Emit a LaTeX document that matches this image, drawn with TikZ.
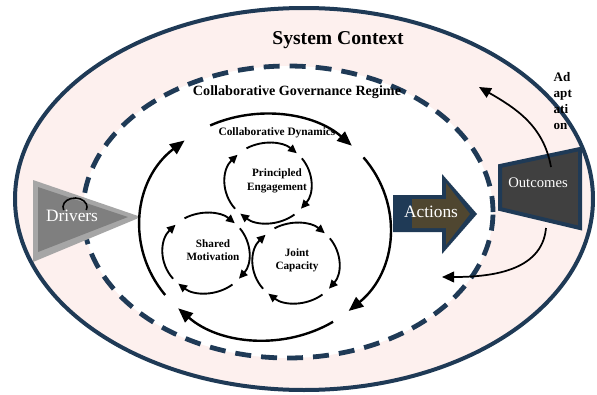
\documentclass[tikz,border=0pt]{standalone}
\usepackage{fontspec}
\setmainfont{Liberation Serif}
\usepackage{tikz}
\usetikzlibrary{arrows.meta}
\usetikzlibrary{positioning}
\definecolor{ctxnavy}{HTML}{1F3A56}
\definecolor{ctxpink}{HTML}{FDF0EE}
\definecolor{drvlight}{HTML}{A6A6A6}
\definecolor{drvdark}{HTML}{7F7F7F}
\definecolor{actolive}{HTML}{4F4630}
\definecolor{outgray}{HTML}{404040}

\tikzset{
  bigloop/.style={line width=1.8pt, -{Triangle[length=11pt,width=9pt]}},
  smallloop/.style={line width=1.4pt, -{Triangle[length=6.5pt,width=6pt]}},
  adapt/.style={line width=1.3pt, -{Triangle[length=9pt,width=8pt]}},
  boxtext/.style={white, font=\fontsize{13}{15}\selectfont},
  circtext/.style={font=\fontsize{8.4}{10}\selectfont\bfseries, align=center},
}

\begin{document}
\begin{tikzpicture}[x=0.75pt,y=0.75pt]
			\useasboundingbox (0,0) rectangle (597,394);
			% system context and governance regime
			\draw[ctxnavy, line width=3pt, fill=ctxpink] (304,195) ellipse [x radius=289, y radius=191];
			\draw[ctxnavy, line width=3.6pt, fill=white, dash pattern=on 12pt off 7.5pt] (288,182) ellipse [x radius=205, y radius=146];
			\node[font=\fontsize{14.7}{17}\selectfont\bfseries] (ctx) at (338,354) {System Context};
			\node[font=\fontsize{10.6}{12}\selectfont\bfseries] (cgr) at (297,302) {Collaborative Governance Regime};
			
			% drivers
			\fill[drvlight] (33,214) -- (33,132) -- (141,177) -- cycle;
			\fill[drvdark] (38,207) -- (38,142) -- (128,177) -- cycle;
			\draw[line width=1.2pt] (75,187) ++(200:12 and 9) arc[start angle=200, end angle=-20, x radius=12, y radius=9];
			\node[boxtext] (drivers) at (72,178) {Drivers};
			
			% actions
			\fill[ctxnavy] (393,199) -- (442,199) -- (442,220) -- (477,180) -- (442,140) -- (442,162) -- (393,162) -- cycle;
			\fill[actolive] (412,195) -- (446,195) -- (446,211) -- (470,180) -- (446,149) -- (446,166) -- (412,166) -- cycle;
			\node[boxtext] (actions) at (431,182) {Actions};
			
			% outcomes
			\draw[ctxnavy, line width=3pt, fill=outgray, line join=miter] (500,228) -- (580,245) -- (580,166) -- (500,185) -- cycle;
			\node[white, font=\fontsize{11}{13}\selectfont] (outcomes) at (538,211) {Outcomes};
			
			% adaptation feedback
			\coordinate (adtop) at (551,227);
			\coordinate (adtip) at (479,307);
			\coordinate (adbot) at (546,166);
			\coordinate (adend) at (442,117);
			\draw[adapt] (adtop) to[out=100,in=-30] (adtip);
			\draw[adapt] (adbot) to[out=-95,in=0] (adend);
			\node[font=\fontsize{9.8}{12}\selectfont\bfseries, align=left, anchor=north west] (adapt) at (549,326) {Ad\\apt\\ati\\on};
			
			% collaborative dynamics loop
			\coordinate (cdloop) at (265,167);
			\node[font=\fontsize{8.5}{10}\selectfont\bfseries] (cd) at (277,261) {Collaborative Dynamics};
			\foreach \a/\b in {116/46, 38/-48, -57/-134, -143/-230}
				\draw[bigloop] (cdloop) ++(\a:125 and 113) arc[start angle=\a, end angle=\b, x radius=125, y radius=113];
			
			% the three inner cycles
			\coordinate (peloop) at (268,211);
			\coordinate (smloop) at (206,141);
			\coordinate (jcloop) at (296,131);
			\foreach \c in {peloop, smloop, jcloop}
				\foreach \a/\b in {120/48, 38/-40, -52/-130, -140/-225}
					\draw[smallloop] (\c) ++(\a:43 and 40) arc[start angle=\a, end angle=\b, x radius=43, y radius=40];
			\node[circtext] (pe) at (277,213) {Principled\\Engagement};
			\node[circtext] (sm) at (213,144) {Shared\\Motivation};
			\node[circtext] (jc) at (297,134) {Joint\\Capacity};
		\end{tikzpicture}
\end{document}
